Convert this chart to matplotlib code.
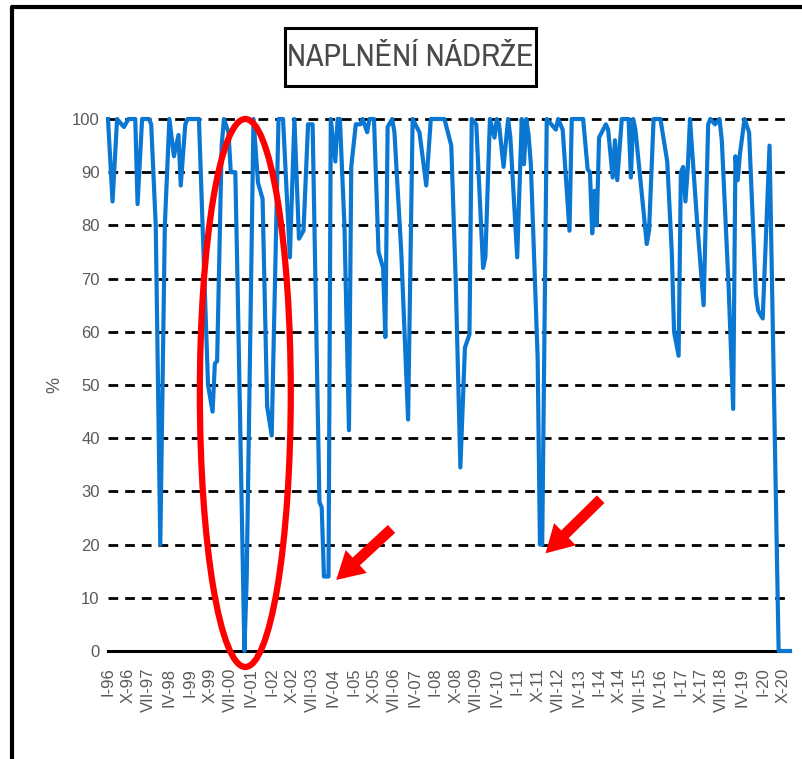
import matplotlib
matplotlib.use("Agg")
import matplotlib.pyplot as plt
from matplotlib.patches import Ellipse, Rectangle, FancyArrowPatch
from matplotlib.lines import Line2D

# month index from I-96 (0) and reservoir fill in %
months = [0, 2, 4, 7, 9, 12, 13, 15, 18, 19, 21, 23, 25, 27, 29, 31, 32, 34, 35,
          40, 42, 44, 46, 47, 48, 50, 51, 53, 54, 56, 57, 60, 61, 64, 66, 68, 70, 72,
          75, 77, 80, 82, 84, 86, 88, 90, 91, 93, 94, 95, 97, 98, 100, 101, 102, 104,
          106, 107, 109, 111, 112, 114, 115, 117, 119, 121, 122, 123, 125, 126, 129,
          132, 134, 137, 140, 142, 148, 151, 153, 155, 157, 159, 160, 162, 165, 166,
          168, 170, 171, 172, 174, 176, 177, 180, 182, 183, 184, 185, 186, 189, 190,
          191, 193, 197, 198, 200, 203, 204, 209, 211, 212, 213, 214, 215, 216, 219,
          220, 222, 223, 224, 226, 229, 230, 231, 232, 237, 238, 240, 243, 246, 248,
          249, 251, 252, 253, 254, 255, 256, 259, 262, 264, 265, 267, 269, 270, 273,
          275, 276, 277, 278, 280, 282, 285, 286, 288, 291, 295, 300]
fill = [100, 84.5, 100, 98.5, 100, 100, 84, 100, 100, 99, 80, 20, 80, 100, 93, 97, 87.5, 99, 100,
        100, 75, 50, 45, 54, 54.5, 95, 100, 97.5, 90, 90, 69, 0, 13.5, 100, 88, 85, 46, 40.5,
        100, 100, 74, 100, 77.5, 79, 99, 99, 75, 28, 27, 14, 14, 100, 92, 100, 100, 80,
        41.5, 91, 99, 99, 100, 97.5, 100, 100, 75, 72, 59, 98.5, 100, 97.5, 75,
        43.5, 100, 97.5, 87.5, 100, 100, 95, 69, 34.5, 57, 59.5, 100, 99, 72, 74,
        100, 96.5, 100, 99, 91, 100, 96.5, 74, 100, 91.5, 100, 97, 91.5, 55, 20,
        20, 100, 98, 100, 98, 79, 100, 100, 90.5, 90, 78.5, 86.5, 80, 96.5, 99,
        98, 89, 96, 88.5, 100, 100, 89, 100, 98, 76.5, 79, 100, 100, 92, 75,
        60, 55.5, 90, 91, 84.5, 90.5, 100, 81.5, 65, 99, 100, 99, 100, 96, 68.5,
        45.5, 93, 88.5, 93.5, 100, 97.5, 67, 64, 62.5, 95, 0, 0]

tick_months = list(range(0, 298, 9))
tick_labels = ["I-96", "X-96", "VII-97", "IV-98", "I-99", "X-99", "VII-00", "IV-01",
               "I-02", "X-02", "VII-03", "IV-04", "I-05", "X-05", "VII-06", "IV-07",
               "I-08", "X-08", "VII-09", "IV-10", "I-11", "X-11", "VII-12", "IV-13",
               "I-14", "X-14", "VII-15", "IV-16", "I-17", "X-17", "VII-18", "IV-19",
               "I-20", "X-20"]
y_ticks = [0, 10, 20, 30, 40, 50, 60, 70, 80, 90, 100]

plt.rcParams['font.family'] = ['Liberation Sans', 'DejaVu Sans']

W, H = 802, 759
fig = plt.figure(figsize=(W / 100, H / 100), dpi=100)
ax = fig.add_axes([108 / W, 1 - 651 / H, (790 - 108) / W, (651 - 119) / H])

ax.plot(months, fill, color='#0A78D2', lw=3, solid_joinstyle='round', clip_on=False, zorder=3)

# dashed gridlines and solid base line
for v in y_ticks[1:]:
    ax.axhline(v, color='black', lw=2, ls=(0, (3.5, 2.5)), zorder=1, clip_on=False)
ax.axhline(0, color='black', lw=2.2, zorder=2, clip_on=False)

ax.set_xlim(0, 300)
ax.set_ylim(0, 100)
for s in ax.spines.values():
    s.set_visible(False)
ax.set_yticks(y_ticks)
ax.set_xticks(tick_months)
ax.set_xticklabels(tick_labels, rotation=90)
ax.tick_params(axis='both', length=0, colors='#595959', labelsize=12)
ax.tick_params(axis='y', pad=6)
ax.tick_params(axis='x', pad=12)
ax.set_ylabel('%', color='#595959', fontsize=13, labelpad=6)

# annotations
ax.add_patch(Ellipse((60.4, 48.5), 40, 103, fill=False, ec='#FF0000', lw=4.5,
                     clip_on=False, zorder=4))
for tail, head in [((125.6, 23.3), (99.5, 13)), ((217.6, 28.9), (191.6, 18))]:
    ax.add_patch(FancyArrowPatch(tail, head, arrowstyle='simple,head_width=1.6,head_length=1.4,tail_width=0.55',
                                 mutation_scale=14, color='#FF0000', lw=0, clip_on=False, zorder=4))

# title box
fig.patches.append(Rectangle((285 / W, 1 - 86 / H), (536 - 285) / W, (86 - 28) / H,
                             transform=fig.transFigure, fill=False, ec='black', lw=2.2))
fig.patches.append(Rectangle((287 / W, 1 - 88 / H), (536 - 285) / W, 2 / H,
                             transform=fig.transFigure, fc='black', ec='none'))
fig.text(410 / W, 1 - 57 / H, 'NAPLNĚNÍ NÁDRŽE', ha='center', va='center', fontsize=23,
         color='#4a4a4a', family=['Archivo Narrow', 'PT Sans Narrow', 'DejaVu Sans'])

# slide frame
fig.add_artist(Line2D([12 / W, 12 / W, 1], [0, 1 - 7 / H, 1 - 7 / H], transform=fig.transFigure,
                      color='black', lw=3))

fig.savefig('out.png', dpi=100)
